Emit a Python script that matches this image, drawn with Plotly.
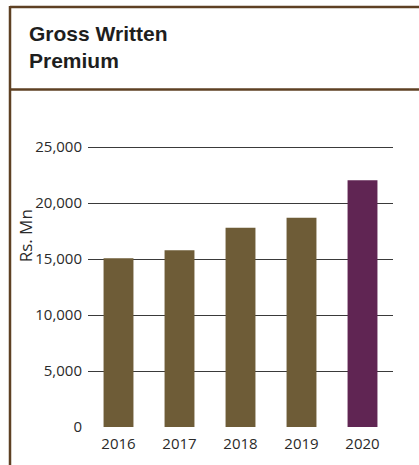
import plotly.graph_objects as go

years = ["2016", "2017", "2018", "2019", "2020"]
premium = [15080, 15780, 17800, 18690, 22050]
bar_colors = ["#6e5c37", "#6e5c37", "#6e5c37", "#6e5c37", "#602553"]
y_ticks = [0, 5000, 10000, 15000, 20000, 25000]
y_tick_text = ["0", "5,000", "10,000", "15,000", "20,000", "25,000"]
grid_ticks = [5000, 10000, 15000, 20000, 25000]

W, H = 419, 465
L, R, T, B = 88, 26, 146, 36
pw, ph = W - L - R, H - T - B
y_max = 25100

def px(x):
    return (x - L) / pw

def py(y):
    return (H - B - y) / ph

frame = "#5e4023"
tick_font = dict(family="Open Sans", size=15, color="#2a2a2a")

fig = go.Figure()
fig.add_trace(go.Bar(x=years, y=premium, marker_color=bar_colors,
                     marker_line_width=0, width=0.49, showlegend=False))
# invisible trace for grid axis
fig.add_trace(go.Scatter(x=years, y=premium, yaxis="y2", mode="none",
                         showlegend=False, hoverinfo="skip"))

fig.update_layout(
    width=W, height=H,
    margin=dict(l=L, r=R, t=T, b=B, pad=0),
    paper_bgcolor="white", plot_bgcolor="white",
    xaxis=dict(type="category", range=[-0.5, 4.5], showgrid=False,
               zeroline=False, showline=False, ticks="",
               tickfont=tick_font, ticklabelstandoff=6),
    yaxis=dict(range=[0, y_max], tickvals=y_ticks, ticktext=y_tick_text,
               showgrid=False, zeroline=False, showline=False, ticks="",
               tickfont=tick_font, ticklabelstandoff=5),
    yaxis2=dict(range=[0, y_max], overlaying="y", tickvals=grid_ticks,
                showticklabels=False, showgrid=True, gridcolor="#3a3a3a",
                gridwidth=1.3, zeroline=False, showline=False, ticks=""),
    annotations=[
        dict(text="<b>Gross Written<br>Premium</b>", showarrow=False,
             xref="paper", yref="paper", x=px(27), y=py(19),
             xanchor="left", yanchor="top", align="left",
             font=dict(family="Liberation Sans", size=21, color="#1e1e1e")),
        dict(text="Rs. Mn", textangle=-90, showarrow=False,
             xref="paper", yref="paper", x=px(25), y=py(236),
             xanchor="center", yanchor="middle",
             font=dict(family="Open Sans", size=17, color="#2a2a2a"))],
    shapes=[
        dict(type="line", xref="paper", yref="paper", x0=px(10), x1=px(W + 5),
             y0=py(6), y1=py(6), line=dict(color=frame, width=2.5)),
        dict(type="line", xref="paper", yref="paper", x0=px(10), x1=px(W + 5),
             y0=py(89), y1=py(89), line=dict(color=frame, width=2.5)),
        dict(type="line", xref="paper", yref="paper", x0=px(10), x1=px(10),
             y0=py(5), y1=py(H + 5), line=dict(color=frame, width=2.5)),
    ],
)

fig.write_html("out.html")
